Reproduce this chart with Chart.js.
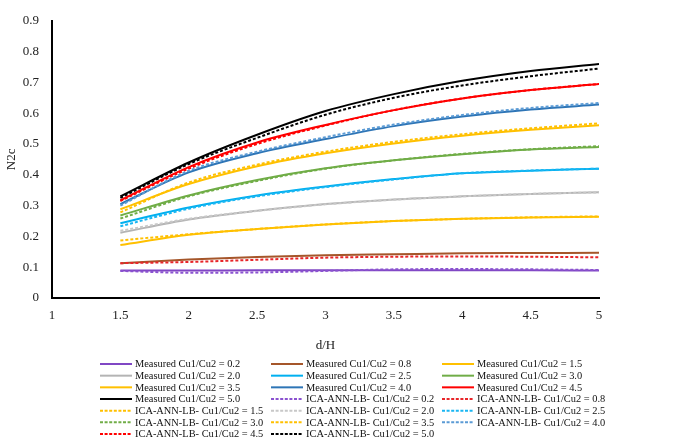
<!DOCTYPE html>
<html>
<head>
<meta charset="utf-8">
<script src="https://cdn.jsdelivr.net/npm/chart.js@4.4.1/dist/chart.umd.min.js"></script>
<style>
  html, body { margin: 0; padding: 0; background: #fff; }
  #wrap { position: relative; width: 685px; height: 446px; }
</style>
</head>
<body>
<div id="wrap"><canvas id="c" width="685" height="446"></canvas></div>
<script>
// ---- data ----
const dH = [1.5, 2, 2.5, 3, 3.5, 4, 4.5, 5];
const ratios = ['0.2', '0.8', '1.5', '2.0', '2.5', '3.0', '3.5', '4.0', '4.5', '5.0'];
const xTicks = [1, 1.5, 2, 2.5, 3, 3.5, 4, 4.5, 5];
const yTicks = [0, 0.1, 0.2, 0.3, 0.4, 0.5, 0.6, 0.7, 0.8, 0.9];

const measured_02 = [0.089, 0.089, 0.090, 0.090, 0.090, 0.090, 0.090, 0.089];
const measured_08 = [0.113, 0.125, 0.133, 0.139, 0.142, 0.145, 0.146, 0.147];
const measured_15 = [0.172, 0.205, 0.224, 0.239, 0.250, 0.257, 0.261, 0.264];
const measured_20 = [0.212, 0.255, 0.283, 0.305, 0.320, 0.330, 0.338, 0.343];
const measured_25 = [0.243, 0.294, 0.333, 0.362, 0.386, 0.405, 0.413, 0.420];
const measured_30 = [0.268, 0.333, 0.383, 0.421, 0.447, 0.467, 0.482, 0.490];
const measured_35 = [0.288, 0.370, 0.428, 0.470, 0.502, 0.527, 0.546, 0.561];
const measured_40 = [0.305, 0.408, 0.470, 0.516, 0.558, 0.589, 0.612, 0.628];
const measured_45 = [0.317, 0.425, 0.505, 0.562, 0.610, 0.648, 0.675, 0.695];
const measured_50 = [0.330, 0.440, 0.530, 0.607, 0.662, 0.705, 0.737, 0.760];

const ann_02 = [0.088, 0.082, 0.083, 0.088, 0.093, 0.094, 0.093, 0.091];
const ann_08 = [0.113, 0.117, 0.124, 0.131, 0.134, 0.135, 0.134, 0.132];
const ann_15 = [0.187, 0.207, 0.224, 0.239, 0.250, 0.257, 0.262, 0.265];
const ann_20 = [0.218, 0.257, 0.283, 0.304, 0.319, 0.330, 0.338, 0.343];
const ann_25 = [0.233, 0.290, 0.330, 0.360, 0.385, 0.405, 0.414, 0.420];
const ann_30 = [0.258, 0.330, 0.380, 0.420, 0.447, 0.468, 0.483, 0.493];
const ann_35 = [0.278, 0.375, 0.433, 0.475, 0.507, 0.532, 0.551, 0.567];
const ann_40 = [0.300, 0.413, 0.475, 0.522, 0.563, 0.594, 0.617, 0.633];
const ann_45 = [0.315, 0.420, 0.500, 0.560, 0.610, 0.648, 0.675, 0.695];
const ann_50 = [0.325, 0.435, 0.520, 0.595, 0.650, 0.690, 0.720, 0.745];

const measuredSeries = [measured_02, measured_08, measured_15, measured_20, measured_25,
                        measured_30, measured_35, measured_40, measured_45, measured_50];
const annSeries = [ann_02, ann_08, ann_15, ann_20, ann_25, ann_30, ann_35, ann_40, ann_45, ann_50];

const measuredColors = ['#8047C4', '#A5562A', '#FFC000', '#B4B4B4', '#00B0F0',
                        '#70AD47', '#FFC000', '#2E75B6', '#FF0000', '#000000'];
const annColors = ['#8B52D0', '#E8262A', '#FFC000', '#C8C8C8', '#1AB6F2',
                   '#70AD47', '#FFC000', '#5B9BD5', '#FF0000', '#000000'];

// ---- build datasets ----
const FONT = '"Liberation Serif", "Times New Roman", serif';
const datasets = [];
ratios.forEach((r, i) => {
  datasets.push({
    label: 'Measured Cu1/Cu2 = ' + r,
    data: dH.map((x, k) => ({ x: x, y: measuredSeries[i][k] })),
    borderColor: measuredColors[i],
    backgroundColor: measuredColors[i],
    borderWidth: 2,
    pointRadius: 0,
    tension: 0.4,
    cubicInterpolationMode: 'monotone',
    fill: false,
    order: 2
  });
});
ratios.forEach((r, i) => {
  datasets.push({
    label: 'ICA-ANN-LB- Cu1/Cu2 = ' + r,
    data: dH.map((x, k) => ({ x: x, y: annSeries[i][k] })),
    borderColor: annColors[i],
    backgroundColor: annColors[i],
    borderWidth: 2,
    borderDash: [3, 2],
    pointRadius: 0,
    tension: 0.4,
    cubicInterpolationMode: 'monotone',
    fill: false,
    order: 1
  });
});

// ---- custom 3-column legend ----
const legendPlugin = {
  id: 'gridLegend',
  afterDraw(chart) {
    const ctx = chart.ctx;
    const colX = [100, 271, 442];
    const lineLen = 32;
    const y0 = 364, dy = 11.67;
    ctx.save();
    ctx.font = '10.4px ' + FONT;
    ctx.textBaseline = 'middle';
    ctx.textAlign = 'left';
    chart.data.datasets.forEach((ds, i) => {
      const col = i % 3, row = Math.floor(i / 3);
      const x = colX[col], y = y0 + row * dy;
      ctx.beginPath();
      ctx.strokeStyle = ds.borderColor;
      ctx.lineWidth = 2;
      ctx.setLineDash(ds.borderDash ? [3, 1.6] : []);
      ctx.moveTo(x, y);
      ctx.lineTo(x + lineLen, y);
      ctx.stroke();
      ctx.setLineDash([]);
      ctx.fillStyle = '#111';
      ctx.fillText(ds.label, x + lineLen + 3, y + 0.5);
    });
    ctx.restore();
  }
};

new Chart(document.getElementById('c'), {
  type: 'line',
  data: { datasets: datasets },
  plugins: [legendPlugin],
  options: {
    responsive: false,
    animation: false,
    events: [],
    layout: { padding: { top: 8, right: 86, left: 0, bottom: 0 } },
    plugins: { legend: { display: false }, tooltip: { enabled: false } },
    scales: {
      x: {
        type: 'linear',
        min: 1, max: 5,
        afterFit: s => { s.height = 148; },
        afterBuildTicks: s => { s.ticks = xTicks.map(v => ({ value: v })); },
        grid: { display: false, drawTicks: false },
        border: { display: true, color: '#000', width: 2 },
        ticks: {
          padding: 10,
          color: '#222',
          font: { family: FONT, size: 13 },
          maxRotation: 0,
          autoSkip: false,
          callback: v => String(v)
        },
        title: {
          display: true, text: 'd/H', color: '#222',
          font: { family: FONT, size: 13 },
          padding: { top: 0, bottom: 93 }
        }
      },
      y: {
        type: 'linear',
        min: 0, max: 0.9,
        afterFit: s => { s.width = 52; },
        afterBuildTicks: s => { s.ticks = yTicks.map(v => ({ value: v })); },
        grid: { display: false, drawTicks: false },
        border: { display: true, color: '#000', width: 2 },
        ticks: {
          padding: 13,
          color: '#222',
          font: { family: FONT, size: 13 },
          autoSkip: false,
          callback: v => (v === 0 ? '0' : v.toFixed(1))
        },
        title: {
          display: true, text: 'N2c', color: '#222',
          font: { family: FONT, size: 13 },
          padding: { top: 4, bottom: 0 }
        }
      }
    }
  }
});
</script>
</body>
</html>
